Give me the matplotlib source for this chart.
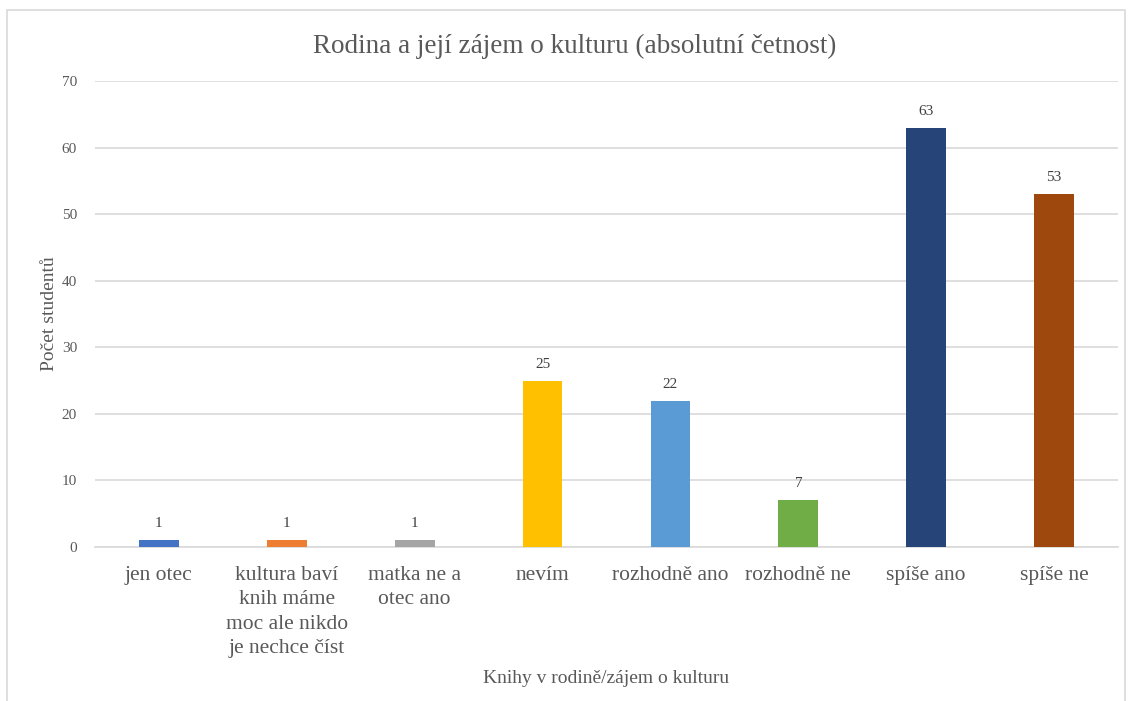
import matplotlib.pyplot as plt
from matplotlib.patches import Rectangle

categories = ["jen otec", "kultura baví\nknih máme\nmoc ale nikdo\nje nechce číst",
              "matka ne a\notec ano", "nevím", "rozhodně ano", "rozhodně ne",
              "spíše ano", "spíše ne"]
values = [1, 1, 1, 25, 22, 7, 63, 53]
colors = ["#4472C4", "#ED7D31", "#A5A5A5", "#FFC000", "#5B9BD5", "#70AD47",
          "#264478", "#9E480E"]

plt.rcParams['font.family'] = ['Liberation Serif', 'DejaVu Serif']
txt = "#595959"

fig = plt.figure(figsize=(11.28, 7.01), dpi=100)
ax = fig.add_axes([95 / 1128, 1 - 547 / 701, (1118 - 95) / 1128, (547 - 81) / 701])

x = range(len(values))
bars = ax.bar(x, values, width=0.31, color=colors, zorder=3)
for b, v in zip(bars, values):
    ax.text(b.get_x() + b.get_width() / 2, v + 1.5, str(v), ha="center", va="bottom",
            fontsize=11, color="#404040")

ax.set_xlim(-0.5, len(values) - 0.5)
ax.set_ylim(0, 70)
ax.set_yticks(range(0, 71, 10))
ax.set_xticks(list(x))
ax.set_xticklabels(categories, fontsize=15.5, color=txt, linespacing=1.36)
ax.tick_params(axis="y", labelsize=11, colors=txt, length=0, pad=13)
ax.tick_params(axis="x", length=0, pad=14)
ax.grid(axis="y", color="#D9D9D9", linewidth=1.2, zorder=0)
for s in ["top", "right", "left"]:
    ax.spines[s].set_visible(False)
ax.spines["bottom"].set_color("#D9D9D9")
ax.spines["bottom"].set_linewidth(1.2)

ax.set_ylabel("Počet studentů", fontsize=14, color=txt, labelpad=3)
ax.set_xlabel("Knihy v rodině/zájem o kulturu", fontsize=14, color=txt, labelpad=9)
fig.text(575 / 1128, 1 - 46 / 701, "Rodina a její zájem o kulturu (absolutní četnost)",
         ha="center", va="center", fontsize=19.5, color=txt)

fig.patches.append(Rectangle((7 / 1128, -0.01), 1118 / 1128, 1 - 10 / 701 + 0.01,
                             transform=fig.transFigure, fill=False,
                             edgecolor="#D9D9D9", linewidth=1.2))

fig.savefig("out.png", dpi=100)
